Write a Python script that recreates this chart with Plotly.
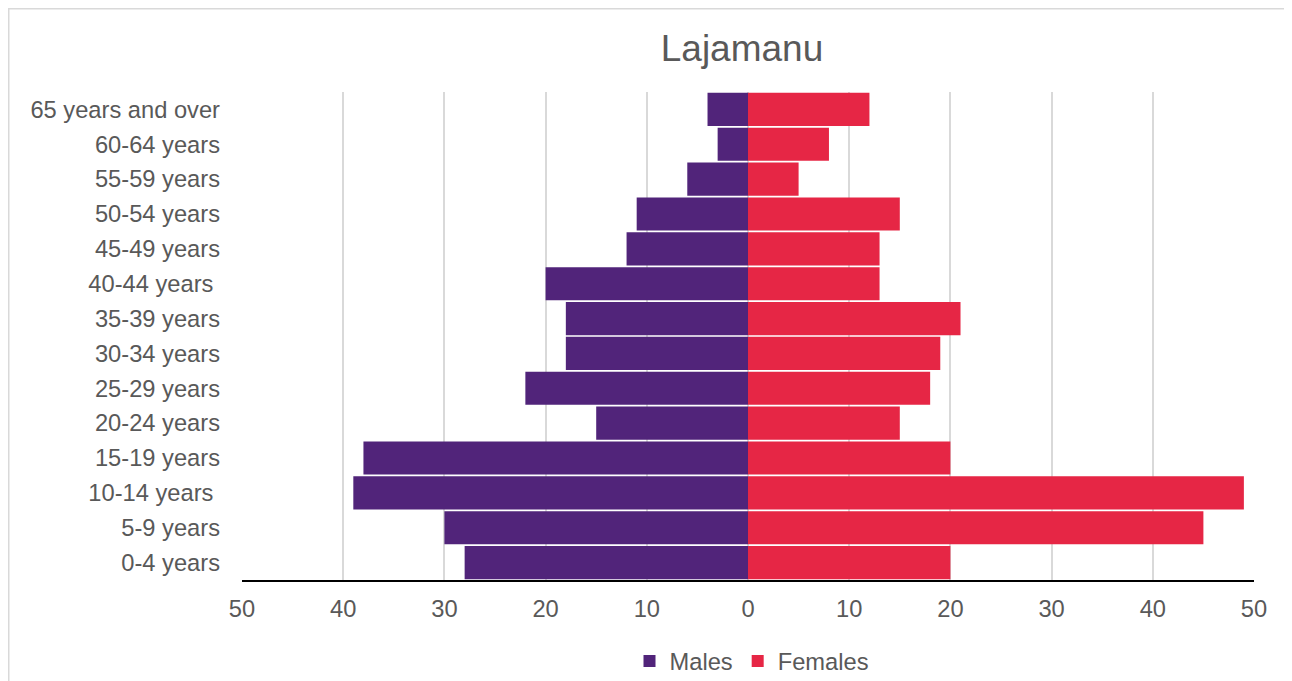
import plotly.graph_objects as go

age_groups = ["0-4 years", "5-9 years", "10-14 years ", "15-19 years", "20-24 years",
              "25-29 years", "30-34 years", "35-39 years", "40-44 years ", "45-49 years",
              "50-54 years", "55-59 years", "60-64 years", "65 years and over"]
males = [28, 30, 39, 38, 15, 22, 18, 18, 20, 12, 11, 6, 3, 4]
females = [20, 45, 49, 20, 15, 18, 19, 21, 13, 13, 15, 5, 8, 12]
tick_vals = [-50, -40, -30, -20, -10, 0, 10, 20, 30, 40, 50]
tick_text = ["50", "40", "30", "20", "10", "0", "10", "20", "30", "40", "50"]

# page has an 8px body margin, so the figure is drawn 8px in and 8px down
OFF = 8
W, H = 1292 - OFF, 681 - OFF
ml, mr, mt, mb = 242 - OFF, 1292 - 1254, 92 - OFF, 681 - 580
pw, ph = W - ml - mr, H - mt - mb

fig = go.Figure()
fig.add_trace(go.Bar(y=age_groups, x=[-v for v in males], orientation="h",
                     name="Males", marker=dict(color="#51247A", line=dict(width=0)),
                     customdata=males, hovertemplate="%{y}: %{customdata}<extra>Males</extra>"))
fig.add_trace(go.Bar(y=age_groups, x=females, orientation="h",
                     name="Females", marker=dict(color="#E62645", line=dict(width=0)),
                     hovertemplate="%{y}: %{x}<extra>Females</extra>"))

font = "Liberation Sans, Arial, sans-serif"
fs = 23.7
fig.update_layout(
    width=W, height=H,
    margin=dict(l=ml, r=mr, t=mt, b=mb, autoexpand=False),
    barmode="overlay", bargap=0.05,
    paper_bgcolor="white", plot_bgcolor="white",
    font=dict(family=font, color="#595959", size=fs),
    title=dict(text="Lajamanu", x=(742 - OFF) / W, xanchor="center",
               y=1 - (48 - OFF) / H, yanchor="middle",
               font=dict(size=37, color="#595959", family=font)),
    legend=dict(orientation="h", xref="container", yref="container",
                x=(752 - OFF) / W, xanchor="center",
                y=1 - (661 - OFF) / H, yanchor="middle",
                font=dict(size=fs, color="#595959"), traceorder="normal",
                itemwidth=30),
    xaxis=dict(range=[-50, 50], tickvals=tick_vals, ticktext=tick_text,
               showgrid=True, gridcolor="#d9d9d9", gridwidth=1.5, zeroline=False,
               showline=True, linecolor="black", linewidth=2,
               ticks="", ticklabelstandoff=7, tickfont=dict(size=fs, color="#595959")),
    yaxis=dict(categoryorder="array", categoryarray=age_groups,
               showgrid=False, zeroline=False, showline=False, ticks="",
               ticklabelstandoff=21, tickfont=dict(size=fs, color="#595959")),
    shapes=[dict(type="rect", xref="paper", yref="paper",
                 x0=(0.75 - ml) / pw, x1=(1291 - OFF - ml) / pw,
                 y0=(H - mb - 700) / ph, y1=(H - mb - 0.75) / ph,
                 line=dict(color="#d9d9d9", width=1.5), layer="below")],
)

fig.write_html("out.html")
